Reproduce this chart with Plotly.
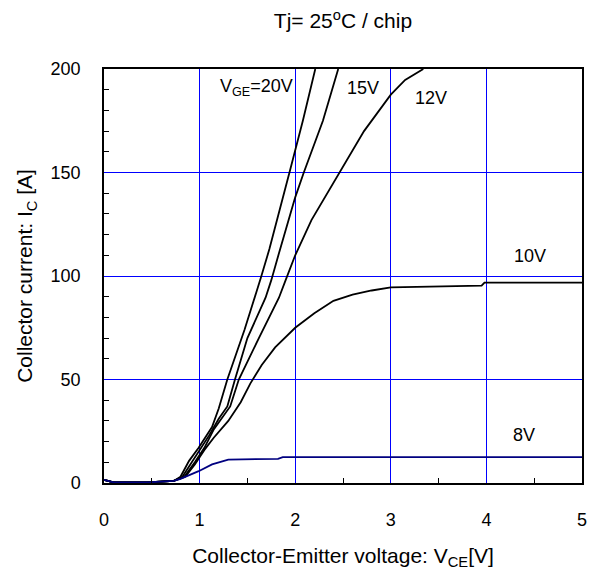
import plotly.graph_objects as go

# V_GE = 20V
v20_x = [0.0, 0.05, 0.1, 0.45, 0.6, 0.73, 0.8, 0.89, 0.99, 1.13, 1.2, 1.29, 1.47, 1.58, 1.64, 1.73, 1.80, 1.94, 2.08, 2.21]
v20_y = [1.5, 1.0, 0.3, 0.3, 0.8, 1.0, 3, 10.7, 17, 27, 36, 50, 74, 89.5, 99, 113, 125, 150, 175, 200]
# V_GE = 15V
v15_x = [0.0, 0.05, 0.1, 0.45, 0.6, 0.73, 0.82, 0.92, 1.0, 1.1, 1.2, 1.29, 1.37, 1.5, 1.69, 1.75, 1.83, 2.0, 2.09, 2.29, 2.45]
v15_y = [1.5, 1.0, 0.3, 0.3, 0.8, 1.0, 3, 10, 16, 23, 31, 37, 50, 70, 89.5, 98, 111, 138, 150, 175, 200]
# V_GE = 12V
v12_x = [0.0, 0.05, 0.1, 0.45, 0.6, 0.73, 0.84, 0.95, 1.05, 1.15, 1.32, 1.41, 1.62, 1.83, 1.90, 2.0, 2.17, 2.46, 2.72, 3.0, 3.15, 3.34]
v12_y = [1.5, 1.0, 0.3, 0.3, 0.8, 1.0, 3, 10, 17, 26, 37, 50, 70, 89.5, 98, 110, 127, 150, 170, 187.6, 194.7, 200]
# V_GE = 10V
v10_x = [0.0, 0.05, 0.1, 0.45, 0.6, 0.73, 0.85, 0.95, 1.05, 1.15, 1.3, 1.43, 1.53, 1.65, 1.79, 2.0, 2.2, 2.4, 2.6, 2.8, 3.0, 3.5, 3.95, 3.98, 5.0]
v10_y = [1.5, 1.0, 0.3, 0.3, 0.8, 1.0, 3, 9, 16, 22, 30, 39, 48, 57, 65.5, 75, 82, 88, 91, 93, 94.5, 95, 95.3, 96.8, 96.8]
# V_GE = 8V
v8_x = [0.0, 0.05, 0.1, 0.45, 0.6, 0.73, 0.8, 0.9, 0.99, 1.13, 1.3, 1.82, 1.87, 5.0]
v8_y = [1.5, 1.0, 0.3, 0.3, 0.8, 1.0, 2, 4, 5.7, 9, 11.3, 11.7, 12.5, 12.5]

labels = ["V<sub>GE</sub>=20V", "15V", "12V", "10V", "8V"]
label_x = [1.59, 2.71, 3.42, 4.46, 4.39]
label_y = [191, 191, 186, 109.5, 23.4]

minor_x_ticks = [0.5, 1.5, 2.5, 3.5, 4.5]
minor_y_ticks = [10, 20, 30, 40, 60, 70, 80, 90, 110, 120, 130, 140, 160, 170, 180, 190]

FONT = "Liberation Sans"
BLUE = "#0000ff"

fig = go.Figure()
series = [(v20_x, v20_y, "black"), (v15_x, v15_y, "black"), (v12_x, v12_y, "black"),
          (v10_x, v10_y, "black"), (v8_x, v8_y, "#000080")]
for xs, ys, c in series:
    fig.add_trace(go.Scatter(x=xs, y=ys, mode="lines", line=dict(color=c, width=1.8),
                             showlegend=False, hoverinfo="skip"))

for t, x, y in zip(labels, label_x, label_y):
    fig.add_annotation(x=x, y=y, text=t, showarrow=False, xref="x", yref="y",
                       font=dict(family=FONT, size=18, color="black"))

fig.update_layout(
    width=590, height=570,
    margin=dict(l=104, r=3, t=69, b=81),
    paper_bgcolor="white", plot_bgcolor="white",
    font=dict(family=FONT, size=18, color="black"),
    title=dict(text="Tj= 25<sup>o</sup>C / chip", x=0.5, xref="paper", y=0.963, yanchor="middle",
               font=dict(family=FONT, size=21, color="black")),
)
fig.update_xaxes(
    range=[0, 5], dtick=1, tick0=0,
    showgrid=True, gridcolor=BLUE, gridwidth=1,
    showline=True, linecolor="black", linewidth=1.5, mirror=True,
    ticks="", 
    minor=dict(tickmode="array", tickvals=minor_x_ticks, ticks="inside", ticklen=5,
               tickcolor="black", showgrid=False),
    zeroline=False, ticklabelstandoff=20, ticklabeloverflow="allow",
    tickfont=dict(family=FONT, size=18, color="black"),
    title=dict(text="Collector-Emitter voltage: V<sub>CE</sub>[V]", standoff=22,
               font=dict(family=FONT, size=21, color="black")),
)
fig.update_yaxes(
    range=[0, 200], dtick=50, tick0=0,
    showgrid=True, gridcolor=BLUE, gridwidth=1,
    showline=True, linecolor="black", linewidth=1.5, mirror=True,
    ticks="",
    minor=dict(tickmode="array", tickvals=minor_y_ticks, ticks="inside", ticklen=5,
               tickcolor="black", showgrid=False),
    zeroline=False, ticklabelstandoff=18,
    tickfont=dict(family=FONT, size=18, color="black"),
    title=dict(text="Collector current: I<sub>C</sub> [A]", standoff=12,
               font=dict(family=FONT, size=21, color="black")),
)

fig.write_html("out.html")
